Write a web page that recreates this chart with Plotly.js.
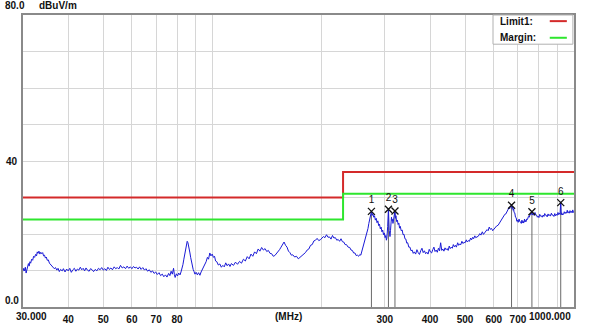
<!DOCTYPE html>
<html>
<head>
<meta charset="utf-8">
<script src="https://cdn.plot.ly/plotly-3.0.1.min.js"></script>
<style>html,body{margin:0;padding:0;background:#fff;}#chart{width:600px;height:324px;}</style>
</head>
<body>
<div id="chart"></div>
<script>
var freqMHz = [
30.0,30.15,30.3,30.45,30.6,30.75,30.9,31.05,31.2,31.35,
31.5,31.7,31.9,32.1,32.3,32.5,32.7,32.85,33.0,33.2,
33.4,33.6,33.8,34.0,34.2,34.4,34.6,34.8,35.0,35.25,
35.5,35.75,36.0,36.3,36.6,36.9,37.2,37.5,37.8,38.1,
38.5,38.8,39.2,39.6,40.0,40.4,40.8,41.2,41.6,42.0,
42.4,42.8,43.2,43.6,44.0,44.4,44.8,45.2,45.7,46.1,
46.6,47.0,47.5,48.0,48.5,49.0,49.5,50.0,50.5,51.0,
51.5,52.0,52.5,53.0,53.6,54.1,54.7,55.2,55.8,56.4,
57.0,57.6,58.2,58.8,59.4,60.0,60.6,61.2,61.8,62.4,
63.0,63.6,64.3,65.0,65.6,66.3,67.0,67.7,68.4,69.1,
69.8,70.5,71.3,72.0,72.8,73.5,74.3,75.0,75.8,76.4,
77.0,77.6,78.2,78.6,79.0,79.6,80.2,80.8,81.5,82.0,
82.5,83.0,83.5,84.0,84.5,84.9,85.3,85.7,86.0,86.4,
86.8,87.2,87.6,88.1,88.6,89.1,89.6,90.3,91.0,91.7,
92.5,93.2,94.0,94.7,95.5,96.2,97.0,97.7,98.5,99.2,
100.0,100.8,101.5,102.2,103.0,104.0,105.0,106.0,107.0,108.0,
109.0,110.0,111.0,112.0,113.0,114.5,116.0,117.5,119.0,120.5,
122.0,123.5,125.0,126.5,128.0,129.5,131.0,132.5,134.0,135.5,
137.0,138.5,140.0,141.5,143.0,144.5,146.0,147.5,149.0,150.5,
152.0,153.5,155.0,156.5,158.0,159.5,161.0,162.5,164.0,165.5,
167.0,169.0,171.0,173.0,175.0,177.0,179,181,183,185,
187,189,191,193,195,197,199,201,203,205,
207,209,211,213,215,217,219,221,223,225,
227,229,231,233,235,237.5,240,242,244,246,
248,250,252,254,256,257.5,259,260.5,262,263.5,
265,266.5,268,269.5,271,272,273,274,275.5,276.8,
278,279.5,281,282.5,284,285.5,287,288.5,290,291.5,
293,294.5,296,297.5,299,300.5,302,303,304,305.5,
307,308.5,310,311,312,313,314,315,316,317,
318,319,320,321,322,323.5,325,326.5,328,329.5,
331,333,335,337,339,341,343,345,347,349.5,
352,354.5,357,359.5,362,365,368,371,374,377,
380,383,386,389,392,395,398,401,404,407,
410,413,416,419,422,425,428,431,434,437,
440,443,446,449,452,455,458,461,464,467,
470,473,477,480,483,486,490,493,497,500,
504,507,511,514,518,521,525,528,532,535,
539,544,549,553,558,562,566,570,575,579,
583,587,592,596,601,606,611,617,623,628,
633,638,644,648,652,656,661,664,667,670,
672,675,677,679,681,683,686,689,692,695,
698,701,705,708,712,715,718,720,723,726,
730,732,735,737,740,744,748,752,757,761,
765,768,772,776,780,784,788,792,796,800,
804,808,812,817,822,826,830,835,839,843,
848,852,857,861,866,870,875,880,885,889,
894,898,903,907,911,915,919,922,925,928,
932,936,940,945,950,954,958,962,966,970,
975,979,984,988,992,996,1000];
var levelDb = [
9.8,10.6,9.9,10.9,9.3,10.2,10.8,11.9,11.2,12.4,
12.0,13.1,12.8,13.9,13.6,14.4,14.0,15.1,14.7,15.3,
14.5,15.0,14.6,14.9,14.0,14.2,13.4,13.7,12.8,12.9,
12.0,11.7,11.2,11.0,10.5,10.8,10.1,10.6,9.7,10.3,
9.9,10.5,9.6,10.4,9.9,10.6,9.5,10.2,10.6,9.8,
10.4,10.1,10.9,10.2,10.6,9.9,10.7,10.1,9.8,10.5,
10.2,9.7,10.3,9.9,10.6,10.2,10.8,10.1,10.5,10.0,
10.9,10.3,10.7,10.2,11.0,10.5,10.8,10.4,11.4,10.7,
11.0,10.5,11.2,10.6,11.0,10.5,11.1,10.7,10.9,10.4,
11.0,10.3,10.8,10.1,10.5,9.8,10.2,9.5,9.9,9.2,
9.6,8.9,9.4,8.6,9.0,8.3,8.8,8.2,9.2,8.6,
9.8,9.0,10.6,8.9,8.1,9.1,8.5,9.3,8.8,9.6,
10.4,11.6,13.1,14.5,15.9,17.2,18.0,17.6,17.0,16.1,
14.8,13.6,12.3,11.2,10.3,9.7,9.0,9.5,8.8,9.4,
8.7,9.6,10.3,10.9,11.9,12.4,13.6,13.1,14.8,14.0,
14.5,13.6,13.9,12.6,12.4,11.5,11.8,10.9,11.4,11.0,
12.1,11.3,11.8,11.1,11.9,11.4,12.3,11.7,12.5,12.0,
13.1,12.6,13.8,13.2,14.5,13.9,15.1,14.6,15.9,15.3,
16.3,15.6,16.0,15.2,15.5,14.7,14.6,13.9,14.1,14.6,
15.1,15.7,16.4,17.0,17.8,16.9,16.4,15.3,14.9,14.2,
14.3,13.7,13.9,13.2,13.6,13.9,14.4,14.9,15.6,15.9,
16.9,17.1,18.1,18.3,18.8,18.2,18.4,18.9,19.3,19.0,
19.8,19.1,19.2,18.6,19.6,18.9,19.0,18.3,18.5,18.0,
18.7,17.9,17.8,17.1,17.1,16.4,16.3,15.6,15.5,14.8,
14.8,14.1,14.2,13.9,14.4,14.2,15.1,15.8,16.9,17.8,
18.6,19.4,20.7,21.5,22.9,23.6,24.7,25.5,26.2,25.1,
25.6,24.6,25.0,23.8,24.3,23.1,23.6,22.3,22.7,21.4,
21.9,20.6,21.1,19.8,20.3,19.0,19.6,18.3,18.9,22.0,
26.8,21.0,19.3,20.9,22.8,24.6,23.7,24.0,22.9,24.1,
25.3,25.9,26.3,24.3,25.0,23.4,23.8,22.6,23.0,21.6,
22.1,20.9,21.1,19.8,19.9,18.7,18.6,17.5,17.6,16.4,
16.4,15.4,15.6,14.7,15.1,14.5,15.7,14.9,14.4,15.4,
16.1,14.9,15.4,14.6,15.0,14.5,15.8,15.1,14.8,15.7,
16.4,15.2,15.6,15.0,16.1,15.4,17.6,15.5,15.9,15.3,
16.2,15.7,16.0,15.5,16.7,16.0,16.4,16.1,17.1,16.5,
16.9,16.4,17.6,16.9,17.3,17.0,18.0,17.4,17.7,17.6,
18.4,17.8,18.2,18.0,18.9,18.4,19.1,18.7,19.5,19.0,
19.2,19.4,20.1,19.7,20.6,19.9,20.3,20.8,21.2,20.9,
21.9,21.3,21.5,20.9,21.3,21.9,22.2,22.4,23.1,23.4,
24.2,24.6,25.4,25.5,26.2,26.4,27.2,26.9,27.6,27.5,
27.9,27.0,27.4,26.5,26.9,25.9,25.8,24.6,24.5,23.5,
23.8,23.2,24.1,23.4,23.3,22.9,23.8,23.1,23.5,23.0,
24.1,23.3,23.7,23.4,24.1,24.0,24.8,24.6,25.5,25.3,
26.1,25.2,25.6,25.1,25.9,25.3,25.2,24.6,24.9,24.5,
25.4,24.9,25.0,24.6,25.2,24.8,25.6,25.1,25.1,24.7,
25.5,25.0,25.3,24.9,25.7,25.2,25.2,24.8,25.6,25.0,
25.4,25.1,25.9,25.3,25.7,25.4,28.8,25.3,25.8,25.2,
25.5,25.4,26.1,25.6,26.0,25.7,26.5,25.8,26.1,25.7,
26.4,25.9,26.2,25.8,26.6,25.9,26.2];

// Limit and margin lines
var limitFreq = [30, 230, 230, 1000];
var limitDb = [30, 30, 37, 37];
var marginDb = [24, 24, 31, 31];

// Markers
var markerFreq = [275.5, 307, 320, 672, 765, 919];
var markerDb = [26.2, 26.8, 26.3, 27.9, 26.1, 28.6];
var markerLabels = ['1', '2', '3', '4', '5', '6'];

// Axis ticks
var xTickVals = [30, 40, 50, 60, 70, 80, 90, 100, 200, 300, 400, 500, 600, 700, 800, 900, 1000];
var xTickText = ['', '40', '50', '60', '70', '80', '', '', '', '300', '400', '500', '600', '700', '', '', ''];
var yTickVals = [0, 10, 20, 30, 40, 50, 60, 70, 80];
var yTickText = ['', '', '', '', '40', '', '', '', ''];

var FONT = 'Liberation Sans, Arial, sans-serif';
var txt = {family: FONT, size: 10, color: '#111', weight: 'bold'};

var mlX = [], mlY = [];
for (var i = 0; i < markerFreq.length; i++) {
  mlX.push(markerFreq[i], markerFreq[i], null);
  mlY.push(0, markerDb[i], null);
}

var traces = [
  {x: mlX, y: mlY, mode: 'lines', line: {color: '#6a6a6a', width: 1}, hoverinfo: 'skip', showlegend: false},
  {x: limitFreq, y: limitDb, mode: 'lines', name: 'Limit1:', line: {color: '#d42a2a', width: 2}, showlegend: false},
  {x: limitFreq, y: marginDb, mode: 'lines', name: 'Margin:', line: {color: '#2ee62e', width: 2}, showlegend: false},
  {x: freqMHz, y: levelDb, mode: 'lines', name: 'Level', line: {color: '#1a1ad6', width: 1}, showlegend: false},
  {x: markerFreq, y: markerDb, mode: 'markers+text', text: markerLabels, textposition: 'top center',
   textfont: {family: FONT, size: 10, color: '#111'},
   marker: {symbol: 'x-thin', size: 7, line: {color: '#111', width: 1.3}}, showlegend: false}
];

var layout = {
  width: 600, height: 324,
  margin: {l: 23, r: 26, t: 15, b: 17, pad: 0},
  paper_bgcolor: '#ffffff', plot_bgcolor: '#ffffff',
  showlegend: false,
  xaxis: {
    type: 'log', range: [Math.log10(30), Math.log10(1000)],
    tickvals: xTickVals, ticktext: xTickText, ticks: '',
    showgrid: true, gridcolor: '#d6d6d6', gridwidth: 1, zeroline: false,
    showline: true, mirror: true, linecolor: '#8a8a8a', linewidth: 2,
    tickfont: txt, ticklabelstandoff: 2
  },
  yaxis: {
    range: [0, 80], tickvals: yTickVals, ticktext: yTickText, ticks: '',
    showgrid: true, gridcolor: '#d6d6d6', gridwidth: 1, zeroline: false,
    showline: true, mirror: true, linecolor: '#8a8a8a', linewidth: 2,
    tickfont: txt, ticklabelstandoff: 2
  },
  shapes: [
    {type: 'rect', xref: 'paper', yref: 'paper', x0: 0.853, x1: 0.998, y0: 0.9, y1: 1, fillcolor: '#ffffff', line: {color: '#b0b0b0', width: 1}, layer: 'above'},
    {type: 'line', xref: 'paper', yref: 'paper', x0: 0.956, x1: 0.987, y0: 0.979, y1: 0.979, line: {color: '#d42a2a', width: 2}, layer: 'above'},
    {type: 'line', xref: 'paper', yref: 'paper', x0: 0.956, x1: 0.987, y0: 0.922, y1: 0.922, line: {color: '#2ee62e', width: 2}, layer: 'above'}
  ],
  annotations: [
    {text: '80.0', xref: 'paper', yref: 'paper', x: -0.0363, y: 1, xanchor: 'left', yanchor: 'middle', yshift: 10, showarrow: false, font: txt},
    {text: 'dBuV/m', xref: 'paper', yref: 'paper', x: 0.0254, y: 1, xanchor: 'left', yanchor: 'middle', yshift: 10, showarrow: false, font: txt},
    {text: '0.0', xref: 'paper', yref: 'y', x: -0.0363, y: 0, xanchor: 'left', yanchor: 'middle', yshift: 7, showarrow: false, font: txt},
    {text: '30.000', xref: 'x', yref: 'paper', x: Math.log10(30), y: 0, xanchor: 'left', yanchor: 'top', xshift: -9, yshift: -2, showarrow: false, font: txt},
    {text: '1000.000', xref: 'x', yref: 'paper', x: Math.log10(1000), y: 0, xanchor: 'right', yanchor: 'top', xshift: -1, yshift: -2, showarrow: false, font: txt},
    {text: '(MHz)', xref: 'paper', yref: 'paper', x: 0.481, y: 0, xanchor: 'center', yanchor: 'top', yshift: -2, showarrow: false, font: txt},
    {text: 'Limit1:', xref: 'paper', yref: 'paper', x: 0.862, y: 0.979, xanchor: 'left', yanchor: 'middle', showarrow: false, font: txt},
    {text: 'Margin:', xref: 'paper', yref: 'paper', x: 0.862, y: 0.922, xanchor: 'left', yanchor: 'middle', showarrow: false, font: txt}
  ]
};

Plotly.newPlot('chart', traces, layout, {staticPlot: true, displayModeBar: false});
</script>
</body>
</html>
